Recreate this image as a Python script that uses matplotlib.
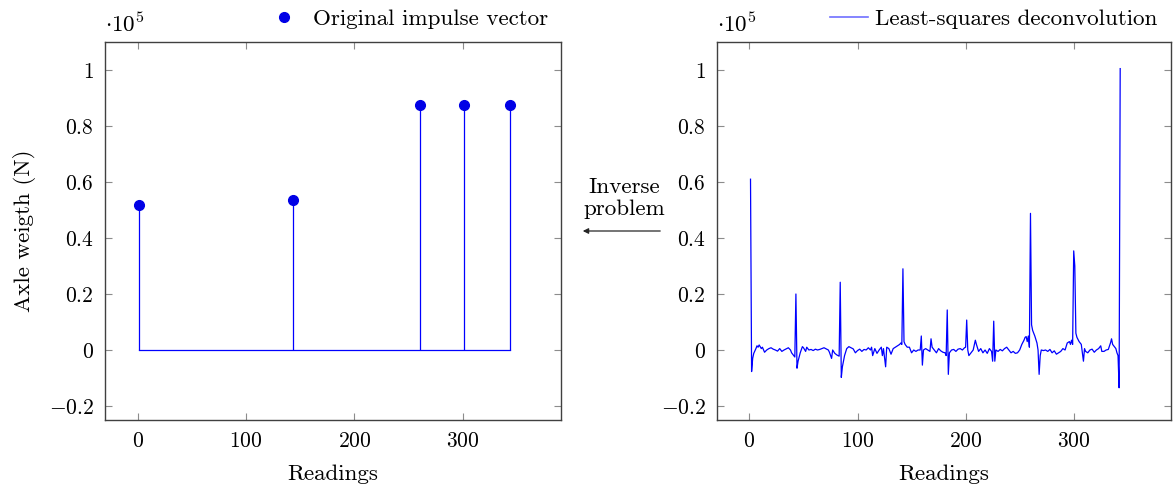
import matplotlib

matplotlib.use("Agg")
import matplotlib.pyplot as plt
from matplotlib.lines import Line2D
from matplotlib.patches import FancyArrowPatch
from matplotlib.ticker import FuncFormatter, FixedLocator

plt.rcParams["font.family"] = "serif"
plt.rcParams["font.serif"] = ["cmr10"]
plt.rcParams["mathtext.fontset"] = "cm"
plt.rcParams["axes.unicode_minus"] = True
plt.rcParams["axes.formatter.use_mathtext"] = True

SCALE = 1e5
FONT = 16.6
FONT_TICKS = 15.5
BLUE = "#0000ff"

# axle impulses (reading index, weight in N)
impulse_readings = [1, 143, 260, 301, 343]
impulse_weights = [51800, 53600, 87500, 87500, 87500]

# least-squares reconstruction, weight in units of 1e5 N
lsq_readings = [
    1, 2, 3, 4, 6, 7, 8, 9, 11, 12, 14, 16, 18, 20, 22, 24, 26, 28, 30, 32,
    34, 36, 38, 39, 41, 42, 43, 44, 45, 47, 49, 50, 52, 53, 55, 57, 59, 61,
    63, 65, 67, 69, 71, 73, 74, 76, 77, 79, 81, 83, 84, 85, 86, 88, 90, 92,
    94, 96, 98, 100, 102, 104, 106, 108, 110, 112, 113, 114, 116, 118, 120,
    122, 123, 124, 126, 127, 129, 131, 133, 135, 137, 139, 140, 141, 142,
    143, 144, 146, 148, 150, 152, 154, 156, 158, 159, 160, 161, 163, 165,
    167, 168, 169, 171, 173, 175, 177, 179, 181, 182, 183, 184, 185, 187,
    189, 191, 193, 195, 197, 199, 200, 201, 202, 203, 205, 207, 209, 210,
    212, 214, 216, 218, 220, 222, 224, 225, 226, 227, 228, 230, 232, 234,
    236, 238, 240, 242, 244, 246, 248, 250, 252, 254, 255, 256, 257, 258,
    259, 260, 261, 262, 264, 266, 267, 268, 269, 270, 272, 274, 276, 278,
    280, 282, 284, 286, 288, 290, 292, 294, 296, 297, 298, 299, 300, 301,
    302, 303, 305, 307, 308, 309, 310, 311, 313, 315, 317, 319, 321, 323,
    325, 326, 328, 330, 332, 334, 335, 336, 338, 339, 340, 341, 342, 343,
]
lsq_weights = [
    0.61, -0.077, -0.03, -0.012, 0.005, 0.015, 0.01, 0.018, 0.005, 0.01,
    -0.008, 0.0, 0.005, 0.008, 0.003, 0.0, -0.004, 0.005, -0.005, 0.0,
    0.004, 0.008, 0.0, -0.01, -0.02, -0.025, 0.2, -0.065, -0.04, -0.01,
    0.012, 0.008, -0.005, 0.01, 0.0, 0.002, -0.002, 0.003, 0.0, 0.002,
    0.005, 0.008, 0.004, 0.0, -0.008, -0.03, 0.0, -0.012, -0.018, -0.022,
    0.242, -0.098, -0.06, -0.02, 0.005, 0.012, 0.008, 0.004, -0.01, -0.002,
    0.003, -0.005, 0.002, 0.0, 0.008, 0.0, 0.01, -0.02, 0.005, -0.012,
    0.0, 0.01, -0.02, 0.005, -0.06, 0.01, 0.005, -0.015, 0.005, 0.01,
    0.015, 0.02, 0.025, 0.02, 0.29, 0.03, 0.02, 0.01, 0.01, -0.01,
    0.0, -0.005, 0.0, 0.0, 0.05, -0.054, 0.0, 0.005, 0.0, -0.005,
    0.04, 0.01, 0.0, -0.01, 0.005, -0.003, -0.008, -0.01, -0.02, 0.143,
    -0.087, -0.01, 0.0, 0.002, -0.005, 0.003, 0.005, 0.0, 0.008, 0.01,
    0.107, 0.0, -0.02, -0.01, 0.0, 0.035, 0.02, -0.005, 0.005, -0.01,
    0.0, -0.012, 0.005, -0.005, -0.04, 0.103, -0.04, 0.0, -0.005, 0.002,
    -0.003, 0.005, 0.01, 0.0, -0.01, -0.005, -0.012, -0.01, 0.0, 0.02,
    0.035, 0.045, 0.048, 0.03, 0.05, 0.01, 0.488, 0.09, 0.07, 0.05,
    0.025, 0.0, -0.087, -0.02, 0.0, -0.002, 0.0, -0.005, 0.002, -0.01,
    -0.003, -0.015, -0.01, -0.005, 0.005, 0.0, 0.025, 0.03, 0.02, 0.035,
    0.02, 0.354, 0.3, 0.06, 0.045, 0.03, 0.02, -0.01, -0.04, 0.005,
    -0.005, -0.01, 0.0, 0.003, -0.008, 0.0, 0.005, 0.015, -0.005, -0.005,
    0.0, 0.002, 0.025, 0.04, 0.02, 0.01, 0.005, -0.01, -0.02, -0.135,
    1.005,
]

x_ticks = [0, 100, 200, 300]
y_ticks = [-0.2, 0, 0.2, 0.4, 0.6, 0.8, 1.0]


def style_axes(ax):
    ax.set_xlim(-30, 390)
    ax.set_ylim(-0.25, 1.1)
    ax.xaxis.set_major_locator(FixedLocator(x_ticks))
    ax.yaxis.set_major_locator(FixedLocator(y_ticks))
    ax.xaxis.set_major_formatter(FuncFormatter(lambda v, p: f"${v:g}$"))
    ax.yaxis.set_major_formatter(FuncFormatter(lambda v, p: f"${v:g}$"))
    ax.tick_params(direction="in", top=True, right=True, length=5,
                   width=0.8, color="0.55", labelsize=FONT_TICKS, pad=8)
    for spine in ax.spines.values():
        spine.set_color("0.25")
        spine.set_linewidth(1.0)
    ax.set_xlabel("Readings", fontsize=FONT, labelpad=10)
    ax.text(0, 1.015, r"$\cdot 10^5$", transform=ax.transAxes,
            ha="left", va="bottom", fontsize=FONT)


fig = plt.figure(figsize=(11.73, 4.88), dpi=100)
ax1 = fig.add_axes([105 / 1173, 68 / 488, 455.6 / 1173, 378 / 488])
ax2 = fig.add_axes([717 / 1173, 68 / 488, 454 / 1173, 378 / 488])

# left: stem plot of the original impulses
weights = [w / SCALE for w in impulse_weights]
ax1.plot([impulse_readings[0], impulse_readings[-1]], [0, 0],
         color=BLUE, lw=0.9)
ax1.vlines(impulse_readings, 0, weights, color=BLUE, lw=0.9)
ax1.plot(impulse_readings, weights, "o", color="#0000e6", ms=7)
style_axes(ax1)
ax1.set_ylabel("Axle weigth (N)", fontsize=FONT, labelpad=9)
h1 = Line2D([], [], color="#0000e6", marker="o", ms=7, lw=0)
ax1.legend([h1], ["Original impulse vector"], loc="lower right",
           bbox_to_anchor=(0.998, 1.004), frameon=False, fontsize=FONT,
           borderpad=0, handletextpad=0.5, handlelength=1.5)

# right: least-squares deconvolution
ax2.plot(lsq_readings, lsq_weights, color=BLUE, lw=0.9)
style_axes(ax2)
h2 = Line2D([], [], color="#7070ff", lw=1.2)
ax2.legend([h2], ["Least-squares deconvolution"], loc="lower right",
           bbox_to_anchor=(0.996, 1.004), frameon=False, fontsize=FONT,
           borderpad=0, handletextpad=0.3, handlelength=1.65)

fig.text(624 / 1173, 1 - 198 / 488, "Inverse\nproblem", ha="center",
         va="center", fontsize=FONT, linespacing=1.15)
fig.add_artist(FancyArrowPatch(
    (663 / 1173, 1 - 231 / 488), (580 / 1173, 1 - 231 / 488),
    transform=fig.transFigure, arrowstyle="-|>", mutation_scale=8,
    color="0.15", lw=0.9))

fig.savefig("out.png", dpi=100)
